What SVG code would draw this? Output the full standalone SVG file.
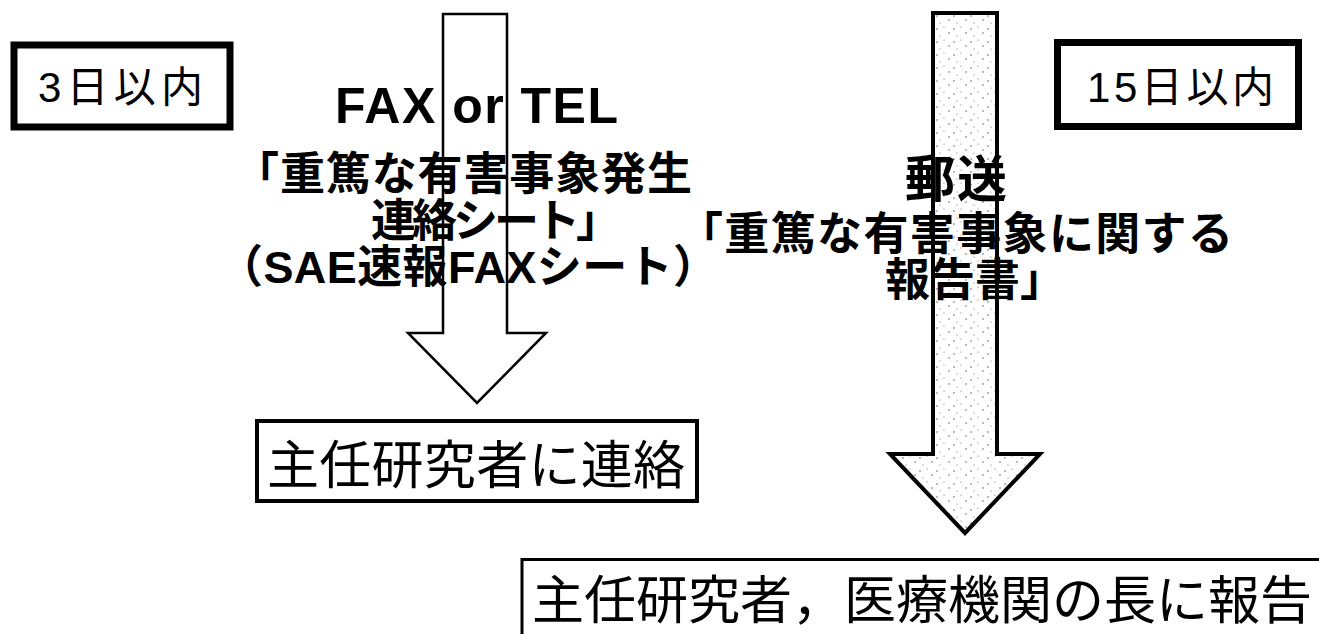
<svg xmlns="http://www.w3.org/2000/svg" width="1319" height="634" viewBox="0 0 1319 634">
  <defs>
    <pattern id="stipple" width="17" height="13" patternUnits="userSpaceOnUse">
      <rect width="17" height="13" fill="#ffffff"/>
      <circle cx="2" cy="3" r="0.7" fill="#444"/>
      <circle cx="9" cy="1" r="0.6" fill="#666"/>
      <circle cx="14" cy="7" r="0.7" fill="#444"/>
      <circle cx="5" cy="10" r="0.6" fill="#666"/>
    </pattern>
    <style>
      .jp { font-family: "Liberation Sans", "Noto Sans CJK JP", sans-serif; fill: #000; }
      .bold { font-weight: bold; }
      .box { fill: #ffffff; stroke: #000; }
    </style>
  </defs>
  <rect width="1319" height="634" fill="#ffffff"/>

  <g id="connectors">
    <polygon id="arrow-fax" points="443,14 507,14 507,333 546,333 477,403 408,333 443,333" fill="#ffffff" stroke="#000" stroke-width="2.5" stroke-linejoin="miter"/>
    <polygon id="arrow-mail" points="933,13 997,13 997,454 1040,454 965,533 890,454 933,454" fill="url(#stipple)" stroke="#000" stroke-width="4" stroke-linejoin="miter"/>
  </g>

  <g id="node-3days">
    <rect class="box" x="14" y="45" width="216" height="82" stroke-width="7"/>
    <text class="jp" x="38" y="102" font-size="42" textLength="165">3日以内</text>
  </g>

  <g id="node-15days">
    <rect class="box" x="1057.5" y="42.5" width="241" height="84" stroke-width="7"/>
    <text class="jp" x="1087" y="102" font-size="42" textLength="187">15日以内</text>
  </g>

  <g id="label-fax">
    <text class="jp bold" x="335" y="123" font-size="50" textLength="283">FAX or TEL</text>
    <text class="jp bold" x="234" y="190" font-size="45" textLength="458">「重篤な有害事象発生</text>
    <text class="jp bold" x="371" y="237" font-size="45" textLength="250">連絡シート」</text>
    <text class="jp bold" x="218" y="283" font-size="45" textLength="500">（SAE速報FAXシート）</text>
  </g>

  <g id="label-mail">
    <text class="jp bold" x="905" y="197" font-size="50" textLength="102">郵送</text>
    <text class="jp bold" x="678" y="250" font-size="45" textLength="555">「重篤な有害事象に関する</text>
    <text class="jp bold" x="885" y="296" font-size="45">報告書」</text>
  </g>

  <g id="node-contact">
    <rect class="box" x="257" y="421" width="440" height="80" stroke-width="4"/>
    <text class="jp" x="267" y="484" font-size="52" textLength="418">主任研究者に連絡</text>
  </g>

  <g id="node-report">
    <rect class="box" x="522" y="559.5" width="900" height="90" stroke-width="3"/>
    <text class="jp" x="532" y="619" font-size="52">主任研究者，医療機関の長に報告</text>
  </g>
</svg>
